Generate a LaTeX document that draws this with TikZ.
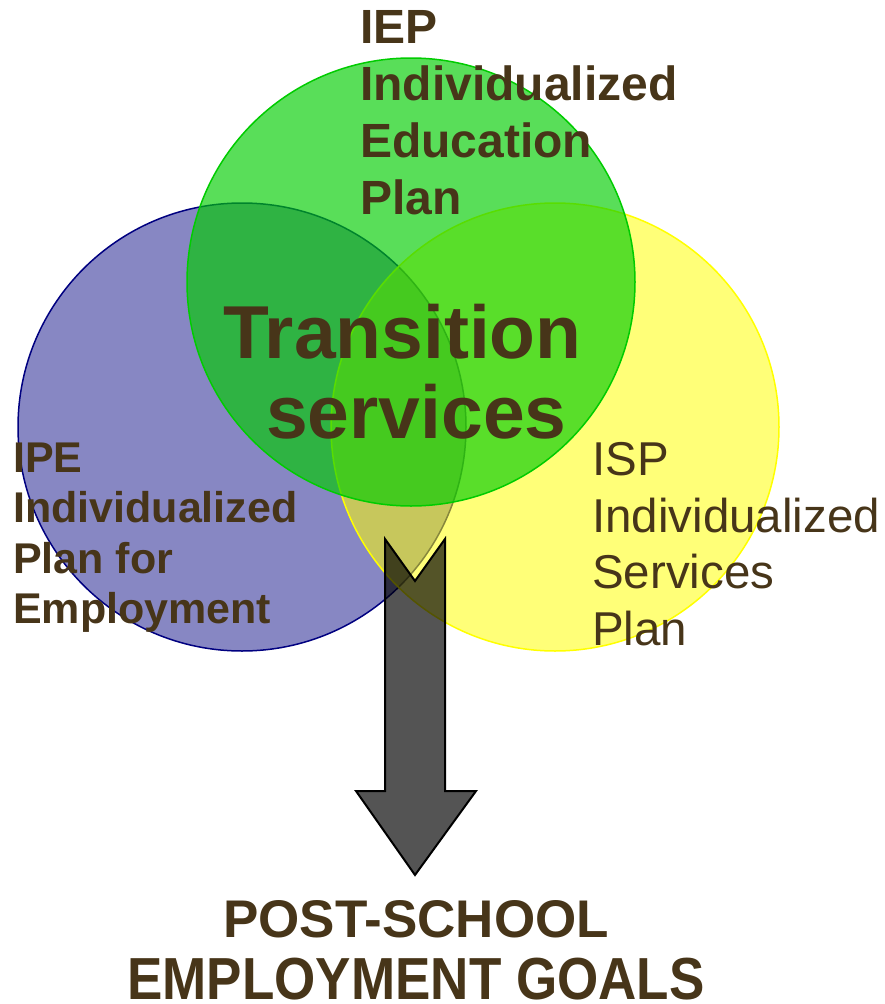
\documentclass[tikz,border=0pt]{standalone}
\usepackage{graphicx}
\usepackage{fontspec}
\setmainfont{Liberation Sans}
\begin{document}
\begin{tikzpicture}[x=1pt,y=-1pt]
\definecolor{txt}{HTML}{473519}
\definecolor{navyc}{HTML}{000080}
\definecolor{greenc}{HTML}{00CC00}
\definecolor{yellowc}{HTML}{FFFF00}
\tikzset{
  venn/.style={circle, inner sep=0pt, minimum size=448pt, line width=1.5pt},
  lbl/.style={anchor=base west, inner sep=0pt, text=txt},
  bigb/.style={font=\fontsize{48}{57}\selectfont\bfseries},
  midb/.style={font=\fontsize{43}{51}\selectfont\bfseries},
  reg/.style={font=\fontsize{47.5}{57}\selectfont},
  huge/.style={font=\fontsize{75}{80}\selectfont\bfseries},
  goal/.style={anchor=base, inner sep=0pt, text=txt, font=\fontsize{53}{59}\selectfont\bfseries},
  blockarrow/.style={fill=black, fill opacity=0.67, draw=black, line width=2pt, line join=miter}
}
\useasboundingbox (0,0) rectangle (885,1004);
% circles
\node[venn, draw=navyc, fill=navyc, fill opacity=0.47] (ipe) at (242,427) {};
\node[venn, draw=yellowc, fill=yellowc, fill opacity=0.53] (isp) at (555,427) {};
\node[venn, draw=greenc, fill=greenc, fill opacity=0.65] (iep) at (411,282) {};
% block arrow
\coordinate (atl) at (385,539);
\coordinate (atr) at (445,539);
\coordinate (anotch) at (415,581);
\coordinate (atip) at (415,875);
\draw[blockarrow] (atl) -- (anotch) -- (atr) -- (445,791) -- (476,791) -- (atip) -- (356,791) -- (385,791) -- cycle;
% IEP text
\node[lbl,bigb] (iep1) at (360,43) {IEP};
\node[lbl,bigb] (iep2) at (360,100) {Individualized};
\node[lbl,bigb] (iep3) at (360,157) {Education};
\node[lbl,bigb] (iep4) at (360,214) {Plan};
% IPE text
\node[lbl,midb] (ipe1) at (13,472) {IPE};
\node[lbl,midb] (ipe2) at (13,522) {Individualized};
\node[lbl,midb] (ipe3) at (13,573) {Plan for};
\node[lbl,midb] (ipe4) at (13,623) {Employment};
% ISP text
\node[lbl,reg] (isp1) at (592,475) {ISP};
\node[lbl,reg] (isp2) at (592,532) {Individualized};
\node[lbl,reg] (isp3) at (592,588) {Services};
\node[lbl,reg] (isp4) at (592,645) {Plan};
% center
\node[lbl,huge] (tr1) at (223,358) {Transition};
\node[lbl,huge] (tr2) at (266,438) {services};
% goal
\node[goal] (goal1) at (416,937) {POST-SCHOOL};
\node[goal] (goal2) at (416,999) {\scalebox{1}[1.12]{EMPLOYMENT GOALS}};
\end{tikzpicture}
\end{document}
